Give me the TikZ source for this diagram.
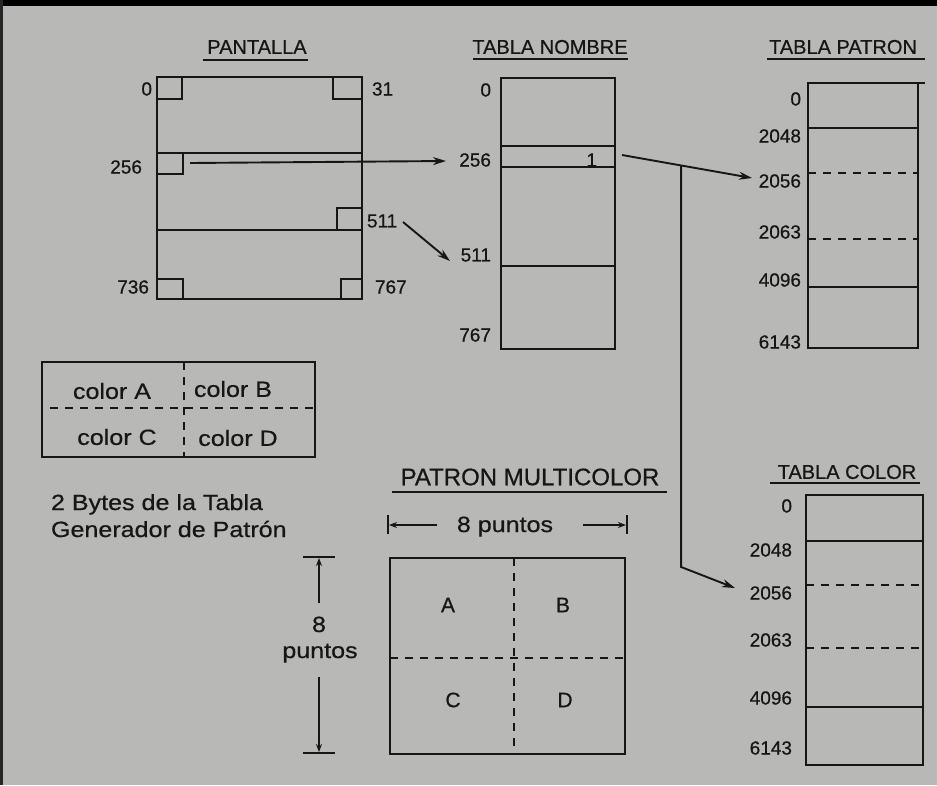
\documentclass[tikz,border=0pt]{standalone}
\usepackage{fontspec}
\setmainfont{Liberation Sans}[FakeBold=0.6]
\newfontfamily\widesans[FakeStretch=1.14,FakeBold=0.6]{Liberation Sans}
\usetikzlibrary{arrows.meta,calc}
\definecolor{paper}{RGB}{184,184,182}
\definecolor{ink}{RGB}{22,22,22}
\begin{document}
\begin{tikzpicture}[x=1pt,y=-1pt, line width=2pt, draw=ink,
  every node/.style={text=ink, inner sep=0pt},
  num/.style={font=\fontsize{19}{19}\selectfont, anchor=east},
  numw/.style={font=\fontsize{19}{19}\selectfont, anchor=west},
  ttl/.style={font=\fontsize{20}{20}\selectfont},
  big/.style={font=\widesans\fontsize{22}{22}\selectfont},
  letter/.style={font=\fontsize{21}{21}\selectfont},
  dsh/.style={dash pattern=on 8pt off 7pt, line width=1.9pt},
  arr/.style={-{Stealth[length=13pt,width=8pt]}, line width=1.9pt},
  darr/.style={-{Stealth[length=8pt,width=6pt]}, line width=1.9pt}]

\useasboundingbox (0,0) rectangle (937,785);
\fill[paper] (0,0) rectangle (937,785);
\fill[black] (0,0) rectangle (937,6);
\fill[black!85] (0,0) rectangle (3,785);

% ---------------- PANTALLA ----------------
\node[ttl] (tP) at (257,47) {PANTALLA};
\draw (203,60) -- (308,60);
\draw (157,77) rectangle (362,299);
\draw (157,153) -- (362,153);
\draw (157,230) -- (362,230);
\draw (157,99) -| (182,77);
\draw (362,99) -| (333,77);
\draw (157,174) -| (183,153);
\draw (362,208) -| (337,230);
\draw (157,279) -| (183,299);
\draw (362,279) -| (341,299);
\node[num]  (p0)   at (153,89)  {0};
\node[numw] (p31)  at (371,89)  {31};
\node[num]  (p256) at (143,167) {256};
\node[numw] (p511) at (366,221) {511};
\node[num]  (p736) at (150,287) {736};
\node[numw] (p767) at (374,287) {767};
\coordinate (p256s) at (190,163);
\coordinate (p511s) at (403,222);

% ---------------- TABLA NOMBRE ----------------
\node[ttl] (tN) at (550,47) {TABLA NOMBRE};
\draw (473,59) -- (628,59);
\draw (501,78) rectangle (615,349);
\draw (501,146) -- (615,146);
\draw (501,167) -- (615,167);
\draw (501,266) -- (615,266);
\node[num] (n0)   at (492,90)  {0};
\node[num] (n256) at (492,160) {256};
\node[num] (n511) at (492,255) {511};
\node[num] (n767) at (492,335) {767};
\node[num] (n1)   at (598,160) {1};
\coordinate (n256in) at (446,161);
\coordinate (n511in) at (450,261);
\coordinate (n1s) at (622,155);

% ---------------- TABLA PATRON ----------------
\node[ttl] (tT) at (843,47) {TABLA PATRON};
\draw (767,59) -- (925,59);
\draw (808,83) -- (925,83);
\draw (808,83) rectangle (918,348);
\draw (808,128) -- (918,128);
\draw (808,287) -- (918,287);
\draw[dsh] (808,173) -- (918,173);
\draw[dsh] (808,239) -- (918,239);
\node[num] (t0)    at (802,99)  {0};
\node[num] (t2048) at (802,136) {2048};
\node[num] (t2056) at (802,181) {2056};
\node[num] (t2063) at (802,232) {2063};
\node[num] (t4096) at (802,280) {4096};
\node[num] (t6143) at (802,342) {6143};
\coordinate (tin) at (752,178);

% ---------------- TABLA COLOR ----------------
\node[ttl] (tC) at (847,472) {TABLA COLOR};
\draw (770,483) -- (920,483);
\draw (806,495) rectangle (923,765);
\draw (806,541) -- (923,541);
\draw (806,707) -- (923,707);
\draw[dsh] (806,585) -- (923,585);
\draw[dsh] (806,648) -- (923,648);
\node[num] (c0)    at (793,506) {0};
\node[num] (c2048) at (793,550) {2048};
\node[num] (c2056) at (793,593) {2056};
\node[num] (c2063) at (793,640) {2063};
\node[num] (c4096) at (793,698) {4096};
\node[num] (c6143) at (793,748) {6143};
\coordinate (cin) at (735,588);

% ---------------- connectors ----------------
\draw[arr] (p256s) -- (n256in);
\draw[arr] (p511s) -- (n511in);
\draw[arr] (n1s) -- (tin);
\coordinate (br) at ($(n1s)!0.455!(tin)$);
\coordinate (bend) at (br |- 0,567);
\draw[arr] (br) -- (bend) -- (cin);

% ---------------- legend box ----------------
\draw (42,362) rectangle (315,457);
\draw[dsh] (50,408) -- (315,408);
\draw[dsh] (184,362) -- (184,457);
\node[big] (cA) at (112,391) {color A};
\node[big] (cB) at (233,389) {color B};
\node[big] (cC) at (117,437) {color C};
\node[big] (cD) at (238,438) {color D};
\node[big, anchor=base west] (bytes) at (50,510) {2 Bytes de la Tabla};
\node[big, anchor=base west] (gen) at (50,537) {Generador de Patrón};

% ---------------- PATRON MULTICOLOR ----------------
\node[font=\fontsize{24}{24}\selectfont] (tM) at (530,477) {PATRON MULTICOLOR};
\draw (392,492) -- (667,492);
\draw (388,515) -- (388,534);
\draw (627,515) -- (627,534);
\coordinate (hl) at (389,525);
\coordinate (hr) at (626,525);
\coordinate (hls) at (437,525);
\coordinate (hrs) at (583,525);
\draw[darr] (hls) -- (hl);
\draw[darr] (hrs) -- (hr);
\node[big, anchor=base] (h8) at (505,532) {8 puntos};

\draw (390,558) rectangle (625,754);
\draw[dsh] (514,558) -- (514,754);
\draw[dsh] (390,658) -- (625,658);
\node[letter] (mA) at (448,605) {A};
\node[letter] (mB) at (563,605) {B};
\node[letter] (mC) at (453,700) {C};
\node[letter] (mD) at (565,700) {D};

\draw (303,557) -- (335,557);
\draw (303,753) -- (335,753);
\coordinate (vt) at (319,558);
\coordinate (vb) at (319,752);
\coordinate (vts) at (319,603);
\coordinate (vbs) at (319,677);
\draw[darr] (vts) -- (vt);
\draw[darr] (vbs) -- (vb);
\node[big, anchor=base] (v8) at (319,632) {8};
\node[big, anchor=base] (vp) at (320,658) {puntos};
\end{tikzpicture}
\end{document}
